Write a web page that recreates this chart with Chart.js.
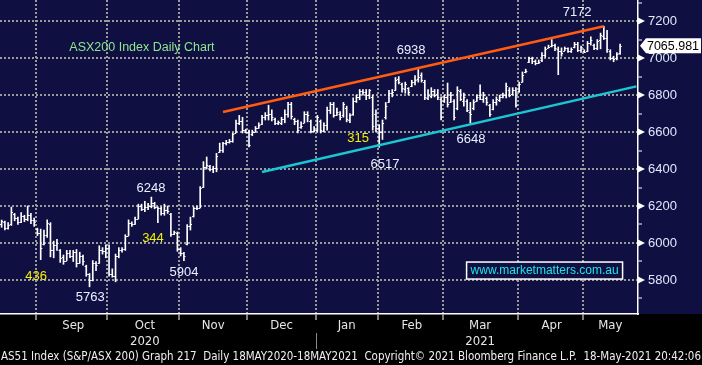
<!DOCTYPE html>
<html>
<head>
<meta charset="utf-8">
<style>
  html, body { margin: 0; padding: 0; background: #000; }
  #wrap { width: 702px; height: 365px; }
</style>
<script src="https://cdn.jsdelivr.net/npm/chart.js@4.4.1/dist/chart.umd.min.js"></script>
</head>
<body>
<div id="wrap"><canvas id="chart" width="702" height="365"></canvas></div>
<script>
// ASX200 daily bars, 17 Aug 2020 - 18 May 2021

// months on the axis and number of trading days drawn in each
const monthNames = ['Aug', 'Sep', 'Oct', 'Nov', 'Dec', 'Jan', 'Feb', 'Mar', 'Apr', 'May'];
const tradingDays = [11, 22, 22, 21, 21, 19, 20, 23, 20, 12];
const emptySlots = 5; // blank space after the last bar
const yearNames = { Oct: '2020', Mar: '2021' };

// price axis: every 100 gets a tick, every 200 a label
const yTicks = [5700, 5800, 5900, 6000, 6100, 6200, 6300, 6400, 6500, 6600, 6700, 6800, 6900, 7000, 7100, 7200, 7300];

const opens = [
  6100, 6115, 6082, 6100, 6155, 6135, 6115, 6145, 6130, 6150, 6125,
  6075, 6055, 5995, 6045, 6105, 5960, 5990, 5960, 5925, 5905, 5945, 5930, 5950, 5890, 5930, 5875, 5830, 5800, 5890, 5890, 5960, 5955,
  5975, 5830, 5820, 5930, 5960, 5965, 6040, 6110, 6105, 6130, 6200, 6185, 6195, 6200, 6215, 6195, 6190, 6160, 6180, 6155, 6050, 6055,
  5965, 5945, 5995, 6090, 6145, 6190, 6190, 6305, 6410, 6415, 6400, 6405, 6490, 6505, 6540, 6545, 6550, 6595, 6650, 6660, 6610,
  6600, 6590, 6600, 6620, 6645, 6680, 6690, 6700, 6670, 6650, 6650, 6670, 6700, 6750, 6670, 6660, 6625, 6650, 6700, 6660, 6605,
  6610, 6660, 6605, 6640, 6720, 6750, 6690, 6700, 6690, 6730, 6665, 6700, 6770, 6790, 6820, 6815, 6800, 6790, 6700,
  6620, 6600, 6680, 6760, 6810, 6830, 6885, 6860, 6835, 6840, 6850, 6870, 6885, 6910, 6870, 6785, 6795, 6820, 6805, 6780,
  6770, 6790, 6760, 6770, 6730, 6820, 6770, 6770, 6710, 6730, 6770, 6800, 6780, 6785, 6745, 6725, 6760, 6775, 6790, 6800, 6830, 6805, 6825,
  6820, 6870, 6925, 6980, 7000, 6985, 6975, 6990, 7015, 7055, 7065, 7070, 7050, 7040, 7040, 7055, 7040, 7060, 7075, 7045,
  7040, 7040, 7080, 7070, 7055, 7095, 7120, 7110, 7040, 7000, 7000, 7025
];
const highs = [
  6124, 6118, 6110, 6194, 6160, 6140, 6165, 6150, 6200, 6160, 6135,
  6080, 6075, 6070, 6125, 6110, 6010, 6020, 5965, 5935, 5960, 5960, 5960, 5965, 5950, 5935, 5880, 5835, 5905, 5900, 5985, 5975, 5990,
  5990, 5860, 5940, 5975, 5975, 6045, 6125, 6115, 6140, 6210, 6210, 6225, 6215, 6248, 6220, 6195, 6195, 6210, 6200, 6160, 6065, 6060,
  5975, 5950, 6100, 6140, 6195, 6200, 6305, 6440, 6465, 6420, 6415, 6485, 6540, 6545, 6555, 6560, 6595, 6665, 6690, 6680, 6615,
  6610, 6610, 6630, 6650, 6690, 6705, 6745, 6720, 6675, 6660, 6680, 6720, 6760, 6760, 6675, 6665, 6655, 6710, 6710, 6665, 6630,
  6690, 6665, 6650, 6735, 6760, 6760, 6730, 6710, 6760, 6740, 6700, 6785, 6800, 6830, 6830, 6830, 6830, 6800, 6720,
  6640, 6665, 6760, 6825, 6830, 6895, 6900, 6865, 6870, 6840, 6880, 6905, 6938, 6920, 6880, 6830, 6840, 6830, 6830, 6790,
  6800, 6865, 6815, 6775, 6845, 6830, 6810, 6775, 6760, 6775, 6800, 6855, 6815, 6790, 6750, 6775, 6790, 6800, 6810, 6865, 6840, 6840, 6840,
  6870, 6925, 6940, 7005, 7005, 6990, 6990, 7030, 7060, 7070, 7100, 7075, 7060, 7055, 7060, 7055, 7055, 7085, 7085, 7065,
  7045, 7090, 7115, 7075, 7100, 7135, 7172, 7150, 7045, 7010, 7030, 7075
];
const lows = [
  6085, 6070, 6075, 6095, 6120, 6100, 6110, 6115, 6120, 6105, 6090,
  6040, 5910, 5990, 6030, 5925, 5920, 5960, 5895, 5885, 5905, 5920, 5900, 5870, 5890, 5880, 5820, 5763, 5795, 5850, 5890, 5940, 5920,
  5820, 5815, 5790, 5920, 5950, 5960, 6040, 6090, 6100, 6130, 6175, 6170, 6180, 6190, 6185, 6110, 6150, 6150, 6160, 6035, 6045, 5955,
  5930, 5904, 5990, 6070, 6140, 6180, 6190, 6300, 6400, 6390, 6380, 6385, 6490, 6490, 6530, 6540, 6545, 6595, 6640, 6595, 6595,
  6520, 6580, 6600, 6620, 6640, 6665, 6665, 6660, 6640, 6640, 6640, 6650, 6680, 6670, 6640, 6595, 6620, 6650, 6655, 6595, 6600,
  6600, 6595, 6600, 6610, 6700, 6680, 6690, 6665, 6680, 6655, 6650, 6690, 6760, 6775, 6800, 6775, 6780, 6610, 6600,
  6517, 6560, 6670, 6760, 6790, 6825, 6860, 6815, 6810, 6800, 6845, 6855, 6870, 6870, 6775, 6775, 6785, 6790, 6775, 6665,
  6760, 6735, 6760, 6665, 6720, 6770, 6740, 6710, 6648, 6720, 6765, 6775, 6760, 6745, 6685, 6720, 6745, 6765, 6785, 6785, 6790, 6800, 6735,
  6815, 6870, 6920, 6975, 6970, 6963, 6970, 6980, 7005, 7055, 7060, 7040, 6910, 7010, 7040, 7030, 7030, 7055, 7035, 7030,
  7030, 7035, 7070, 7045, 7045, 7050, 7100, 7030, 6990, 6980, 6990, 7020
];
const closes = [
  6118, 6080, 6097, 6167, 6135, 6113, 6146, 6129, 6151, 6124, 6113,
  6054, 5975, 6045, 6110, 5960, 5990, 6000, 5920, 5900, 5945, 5930, 5950, 5890, 5930, 5900, 5830, 5800, 5890, 5880, 5960, 5955, 5975,
  5830, 5820, 5930, 5960, 5965, 6040, 6110, 6105, 6130, 6200, 6185, 6195, 6200, 6215, 6195, 6190, 6160, 6180, 6175, 6050, 6060, 5965,
  5945, 5930, 6090, 6100, 6190, 6190, 6300, 6410, 6420, 6400, 6405, 6470, 6505, 6540, 6545, 6550, 6590, 6650, 6660, 6610, 6600,
  6530, 6600, 6620, 6640, 6680, 6690, 6700, 6680, 6650, 6655, 6670, 6700, 6750, 6685, 6660, 6610, 6630, 6700, 6690, 6605, 6610,
  6680, 6610, 6640, 6720, 6750, 6690, 6710, 6680, 6750, 6670, 6690, 6770, 6790, 6820, 6815, 6800, 6825, 6630, 6620,
  6600, 6650, 6740, 6810, 6815, 6880, 6870, 6840, 6860, 6815, 6870, 6880, 6900, 6880, 6790, 6800, 6820, 6800, 6790, 6680,
  6790, 6750, 6800, 6680, 6830, 6780, 6790, 6720, 6700, 6760, 6790, 6780, 6800, 6760, 6700, 6760, 6780, 6790, 6800, 6850, 6800, 6825, 6745,
  6860, 6910, 6930, 7000, 6985, 6975, 6980, 7015, 7050, 7060, 7070, 7055, 7040, 7030, 7055, 7040, 7050, 7075, 7045, 7060,
  7035, 7080, 7100, 7055, 7090, 7125, 7110, 7050, 7000, 6995, 7020, 7066
];
const lastPrice = 7065.981;

// hand drawn trend lines: [bar, level]
const resistance = [[68, 6708], [185, 7172]];
const support = [[80, 6384], [195, 6847]];

// text notes: [text, bar, level, colour]
const notes = [
  ['ASX200 Index Daily Chart', 43.1, 7055, '#8fe68f'],
  ['7172', 176.8, 7245, '#e8f2ff'],
  ['6938', 125.8, 7039, '#e8f2ff'],
  ['6248', 45.9, 6297, '#e8f2ff'],
  ['344', 46.5, 6026, '#f2f200'],
  ['436', 10.6, 5821, '#f2f200'],
  ['5763', 27.2, 5707, '#e8f2ff'],
  ['5904', 56.0, 5842, '#e8f2ff'],
  ['315', 109.5, 6568, '#f2f200'],
  ['6517', 117.8, 6427, '#e8f2ff'],
  ['6648', 144.2, 6562, '#e8f2ff']
];
const website = ['www.marketmatters.com.au', 166.8, 5851];
const footer = 'AS51 Index (S&P/ASX 200) Graph 217  Daily 18MAY2020-18MAY2021  Copyright\u00A9 2021 Bloomberg Finance L.P.  18-May-2021 20:42:06';

// category labels: one per trading day, blank slots count as May for centring
const labels = [];
monthNames.forEach((m, k) => {
  const n = tradingDays[k] + (k === monthNames.length - 1 ? emptySlots : 0);
  for (let d = 0; d < n; d++) labels.push(m);
});
const monthStart = [];
const monthMid = {};
let pos = 0;
monthNames.forEach((m, k) => {
  const n = tradingDays[k] + (k === monthNames.length - 1 ? emptySlots : 0);
  monthStart.push(pos);
  if (k > 0) monthMid[pos + Math.floor(n / 2)] = m; // August is partial, not labelled
  pos += n;
});

const trendData = pts => labels.map((_, i) => {
  const p = pts.find(q => q[0] === i);
  return p ? p[1] : null;
});

const NAVY = '#100f42';
const GRID = '#9a9a9a';
const condensed = "'DejaVu Sans Condensed', 'Liberation Sans Narrow', sans-serif";
const sans = "'Liberation Sans', Arial, sans-serif";

const decor = {
  id: 'decor',
  beforeDraw(chart) {
    const { ctx, chartArea } = chart;
    ctx.save();
    ctx.fillStyle = '#000';
    ctx.fillRect(0, 0, chart.width, chart.height);
    ctx.fillStyle = NAVY;
    ctx.fillRect(0, 0, chart.width, chartArea.bottom);
    ctx.restore();
  },
  afterDatasetsDraw(chart) {
    const { ctx, scales: { x, y } } = chart;
    const meta = chart.getDatasetMeta(0);
    ctx.save();
    // open / close ticks
    ctx.strokeStyle = '#fff';
    ctx.lineWidth = 1;
    ctx.beginPath();
    meta.data.forEach((bar, i) => {
      const yo = Math.round(y.getPixelForValue(opens[i])) + 0.5;
      const yc = Math.round(y.getPixelForValue(closes[i])) + 0.5;
      ctx.moveTo(bar.x - 1.6, yo); ctx.lineTo(bar.x, yo);
      ctx.moveTo(bar.x, yc); ctx.lineTo(bar.x + 1.6, yc);
    });
    ctx.stroke();

    // notes
    ctx.textAlign = 'center';
    ctx.textBaseline = 'middle';
    notes.forEach(([t, b, v, c], k) => {
      ctx.font = (k === 0 ? '12.5px ' : '13px ') + sans;
      ctx.fillStyle = c;
      ctx.fillText(t, x.getPixelForValue(b), y.getPixelForValue(v));
    });

    // website box
    const wx = x.getPixelForValue(website[1]);
    const wy = y.getPixelForValue(website[2]);
    ctx.fillStyle = NAVY;
    ctx.fillRect(wx - 78, wy - 8.5, 156, 17);
    ctx.strokeStyle = '#fff';
    ctx.lineWidth = 1.5;
    ctx.strokeRect(wx - 78, wy - 8.5, 156, 17);
    ctx.fillStyle = '#1ee4ea';
    ctx.font = '12px ' + sans;
    ctx.fillText(website[0], wx, wy + 0.5, 152);
    ctx.restore();
  },
  afterDraw(chart) {
    const { ctx, chartArea, scales: { x, y } } = chart;
    ctx.save();
    // arrow heads at the labelled y ticks
    ctx.fillStyle = '#fff';
    y.ticks.forEach(t => {
      if (t.value % 200 !== 0) return;
      const py = Math.round(y.getPixelForValue(t.value));
      ctx.beginPath();
      ctx.moveTo(y.left, py - 3.5);
      ctx.lineTo(y.left + 7, py);
      ctx.lineTo(y.left, py + 3.5);
      ctx.closePath();
      ctx.fill();
    });

    // last price flag
    const py = y.getPixelForValue(lastPrice);
    ctx.beginPath();
    ctx.moveTo(y.left + 2, py);
    ctx.lineTo(y.left + 8, py - 7.5);
    ctx.lineTo(chart.width - 1, py - 7.5);
    ctx.lineTo(chart.width - 1, py + 7.5);
    ctx.lineTo(y.left + 8, py + 7.5);
    ctx.closePath();
    ctx.fill();
    ctx.fillStyle = '#000';
    ctx.font = '13px ' + sans;
    ctx.textAlign = 'left';
    ctx.textBaseline = 'middle';
    ctx.fillText(lastPrice.toFixed(3), y.left + 9, py + 0.5, 52);

    // year divider under the Jan boundary
    const jx = Math.round(x.getPixelForValue(monthStart[5] - 0.5)) + 0.5;
    ctx.strokeStyle = '#8a8a8a';
    ctx.lineWidth = 1;
    ctx.beginPath();
    ctx.moveTo(jx, chartArea.bottom + 19);
    ctx.lineTo(jx, chartArea.bottom + 35);
    ctx.stroke();

    // footer line
    ctx.fillStyle = '#f0f0f0';
    ctx.font = '12px ' + condensed;
    ctx.fillText(footer, 1, chart.height - 8, 700);
    ctx.restore();
  }
};

const ctx = document.getElementById('chart').getContext('2d');
new Chart(ctx, {
  data: {
    labels: labels,
    datasets: [
      {
        type: 'bar',
        data: lows.map((l, i) => [l, highs[i]]),
        backgroundColor: '#ffffff',
        borderWidth: 0,
        barThickness: 1,
        grouped: false,
        order: 3
      },
      {
        type: 'line',
        data: trendData(resistance),
        borderColor: '#ff5c12',
        borderWidth: 2.5,
        pointRadius: 0,
        spanGaps: true,
        order: 1
      },
      {
        type: 'line',
        data: trendData(support),
        borderColor: '#1cc6d0',
        borderWidth: 2.5,
        pointRadius: 0,
        spanGaps: true,
        order: 1
      }
    ]
  },
  options: {
    responsive: false,
    animation: false,
    devicePixelRatio: 1,
    layout: { padding: 0 },
    plugins: { legend: { display: false }, tooltip: { enabled: false } },
    scales: {
      x: {
        type: 'category',
        offset: true,
        afterFit: s => { s.height = 51; s.paddingLeft = 0; s.paddingRight = 0; },
        grid: {
          offset: true,
          lineWidth: 2,
          color: c => (c.index > 0 && monthStart.includes(c.index)) ? GRID : 'transparent',
          tickColor: c => (c.index > 0 && monthStart.includes(c.index)) ? '#ffffff' : 'transparent',
          tickLength: 6,
          tickWidth: 1
        },
        border: { color: '#ffffff', width: 1.5, dash: [2, 2] },
        ticks: {
          autoSkip: false,
          maxRotation: 0,
          minRotation: 0,
          padding: -3,
          color: '#e6e6e6',
          font: { family: condensed, size: 13, lineHeight: 1.25 },
          callback: (v, i) => {
            const m = monthMid[i];
            if (!m) return '';
            return yearNames[m] ? [m, yearNames[m]] : m;
          }
        }
      },
      y: {
        position: 'right',
        min: 5616,
        max: 7314,
        afterFit: s => { s.width = 64; s.paddingTop = 0; s.paddingBottom = 0; },
        afterBuildTicks: s => { s.ticks = yTicks.map(v => ({ value: v })); },
        grid: {
          lineWidth: 2,
          color: c => (c.tick && c.tick.value % 200 === 0) ? GRID : 'transparent',
          tickColor: '#ffffff',
          tickLength: 4,
          tickWidth: 1
        },
        border: { color: '#ffffff', width: 1.5, dash: [2, 2] },
        ticks: {
          padding: 6,
          color: '#dfe9ff',
          font: { family: sans, size: 13 },
          callback: v => v % 200 === 0 ? String(v) : ''
        }
      }
    }
  },
  plugins: [decor]
});
</script>
</body>
</html>
